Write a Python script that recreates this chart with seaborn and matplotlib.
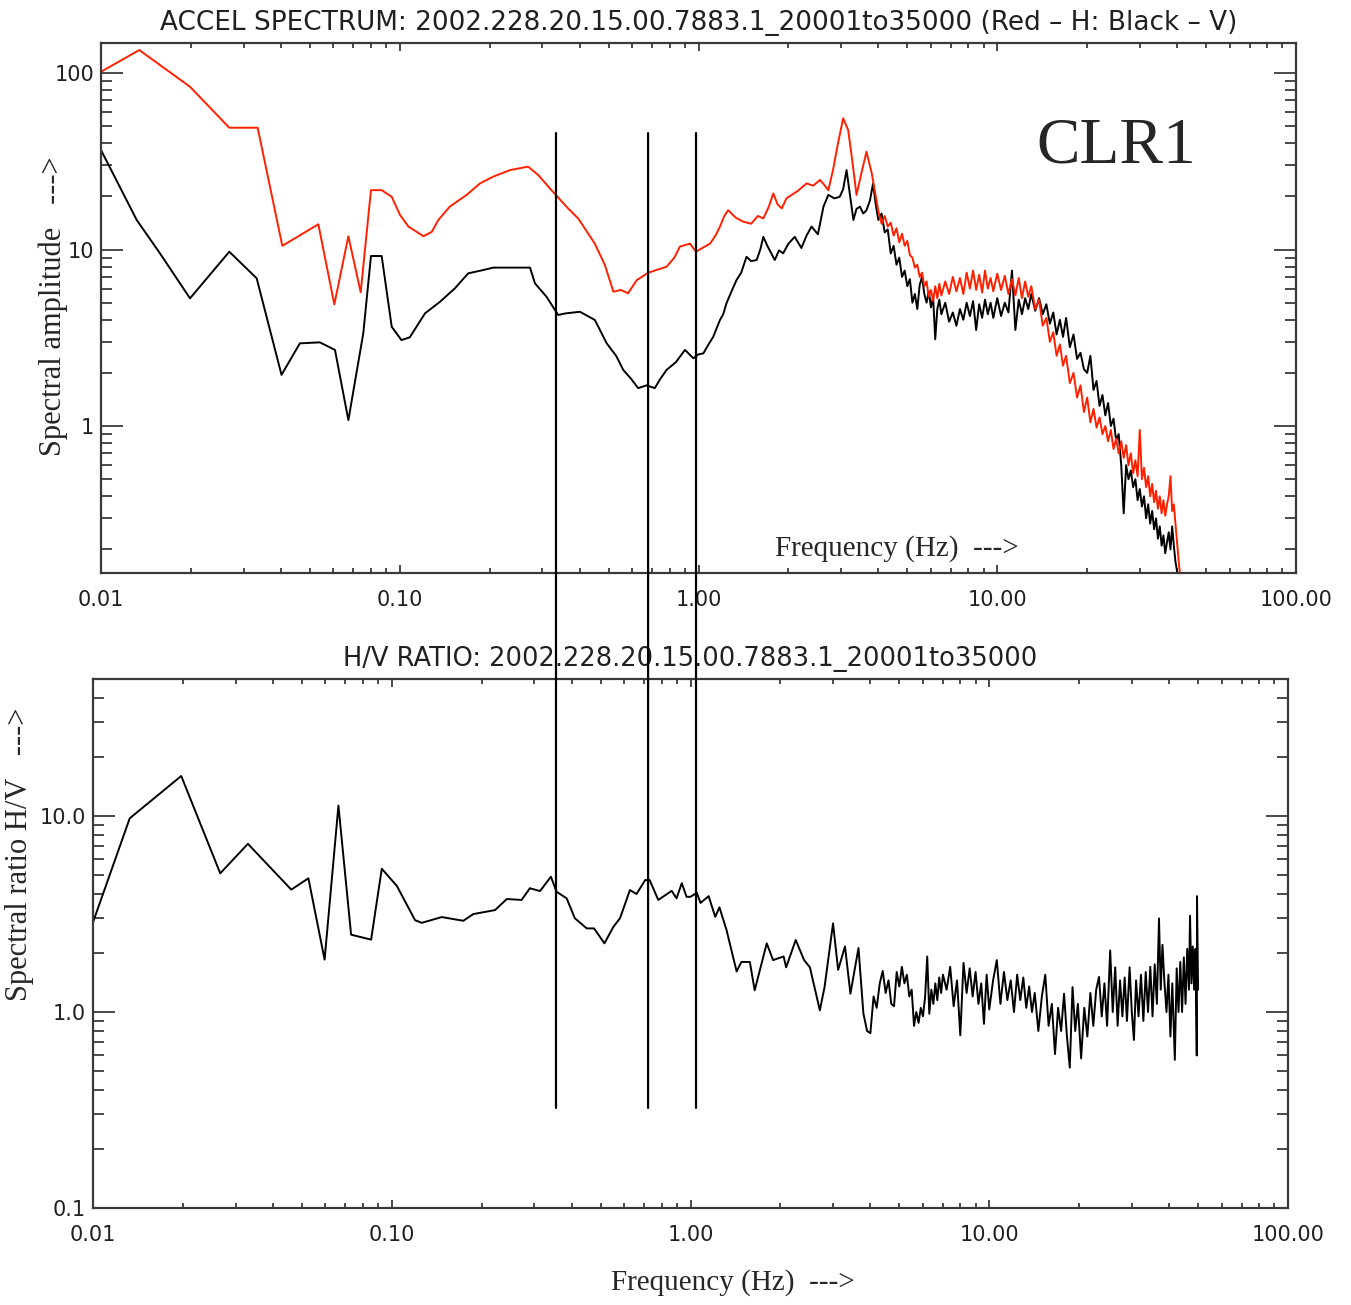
import numpy as np
import pandas as pd
import matplotlib
matplotlib.use("Agg")
import matplotlib.pyplot as plt
import seaborn as sns
from matplotlib.ticker import LogLocator, NullFormatter
from matplotlib.patches import ConnectionPatch
from matplotlib.transforms import blended_transform_factory

# ---------------- data ----------------
# Top panel: horizontal (red) spectrum, sparse low-frequency part
freq_h_low = [0.01, 0.01343, 0.01986, 0.02688, 0.03345, 0.04045, 0.0534, 0.0604, 0.0673, 0.074,
              0.0801, 0.087, 0.094, 0.1002, 0.1069, 0.12, 0.128, 0.1346, 0.147, 0.1675,
              0.1856, 0.2057, 0.234, 0.269, 0.291, 0.322, 0.366, 0.3957, 0.4498, 0.486,
              0.519, 0.55, 0.581, 0.621, 0.679, 0.73, 0.782, 0.83, 0.867, 0.936,
              0.981, 1.04, 1.093, 1.14, 1.18, 1.22, 1.257, 1.33, 1.41, 1.5,
              1.58, 1.648, 1.72, 1.78, 1.84, 1.9, 1.97, 2.05, 2.15, 2.3,
              2.42, 2.55, 2.65, 2.72, 2.82, 2.93, 3.05, 3.17, 3.27, 3.38,
              3.51, 3.65, 3.8, 3.92]
amp_h_low = [101.7, 135, 83.6, 49, 49, 10.5, 13.9, 4.89, 11.9, 5.72,
             21.7, 21.7, 19.9, 15.7, 13.5, 11.9, 12.6, 14.7, 17.5, 20.4,
             23.7, 25.9, 28.2, 29.5, 26.4, 21.7, 17.1, 15.0, 10.8, 8.17,
             5.77, 5.9, 5.65, 6.71, 7.39, 7.7, 7.99, 9.0, 10.4, 10.8,
             9.72, 10.3, 10.8, 12.0, 13.5, 15.5, 16.7, 15.2, 14.4, 14.0,
             15.5, 15.0, 17.5, 20.8, 18.0, 17.1, 19.5, 20.4, 21.5, 23.7,
             23.0, 24.8, 23.0, 21.7, 28.2, 40.0, 55.4, 47.5, 32.0, 20.4,
             27.1, 35.8, 27.1, 20.0]

# Top panel: vertical (black) spectrum, sparse low-frequency part
freq_v_low = [0.01, 0.01317, 0.01575, 0.01986, 0.02688, 0.0332, 0.0402, 0.0463, 0.054, 0.0607,
              0.0673, 0.0755, 0.0801, 0.087, 0.094, 0.1013, 0.108, 0.1215, 0.1364, 0.153,
              0.1695, 0.19, 0.2057, 0.234, 0.273, 0.2836, 0.31, 0.339, 0.36, 0.401,
              0.4498, 0.493, 0.53, 0.56, 0.595, 0.628, 0.67, 0.714, 0.745, 0.782,
              0.84, 0.901, 0.961, 1.0, 1.038, 1.08, 1.12, 1.18, 1.21, 1.24,
              1.29, 1.34, 1.39, 1.448, 1.5, 1.565, 1.61, 1.648, 1.7, 1.8,
              1.86, 1.92, 2.0, 2.1, 2.21, 2.3, 2.39, 2.51, 2.62, 2.72,
              2.85, 2.97, 3.05, 3.13, 3.22, 3.3, 3.38, 3.47, 3.56, 3.65,
              3.75, 3.84, 3.92]
amp_v_low = [36.6, 14.7, 9.52, 5.29, 9.72, 6.87, 1.95, 2.94, 2.98, 2.70,
             1.08, 3.35, 9.19, 9.19, 3.65, 3.07, 3.18, 4.35, 5.06, 6.03,
             7.33, 7.65, 7.9, 7.9, 7.9, 6.43, 5.40, 4.26, 4.35, 4.44,
             3.99, 2.94, 2.5, 2.08, 1.85, 1.64, 1.7, 1.64, 1.85, 2.08,
             2.3, 2.70, 2.42, 2.55, 2.58, 2.9, 3.2, 3.99, 4.3, 4.95,
             5.8, 6.71, 7.4, 9.10, 8.6, 8.72, 10.0, 11.8, 10.5, 8.72,
             9.9, 9.52, 10.8, 11.8, 10.2, 12.0, 13.5, 12.2, 17.5, 20.4,
             19.5, 19.9, 22.0, 28.2, 20.0, 14.7, 17.0, 17.5, 16.0, 16.7,
             19.0, 23.7, 18.0]

# Top panel: dense high-frequency part (shared frequencies)
freq_hi = [4.0, 4.1, 4.2, 4.3, 4.4, 4.5, 4.6, 4.7, 4.8, 4.9,
           5.0, 5.1, 5.2, 5.3, 5.4, 5.5, 5.6, 5.7, 5.8, 5.9,
           6.0, 6.1, 6.2, 6.3, 6.4, 6.5, 6.7, 6.9, 7.1, 7.3,
           7.5, 7.7, 7.9, 8.1, 8.3, 8.5, 8.7, 8.9, 9.1, 9.3,
           9.5, 9.7, 10.0, 10.3, 10.6, 10.9, 11.2, 11.5, 11.8, 12.1,
           12.4, 12.7, 13.0, 13.4, 13.8, 14.2, 14.6, 15.0, 15.4, 15.8,
           16.2, 16.6, 17.0, 17.5, 18.0, 18.5, 19.0, 19.5, 20.0, 20.5,
           21.0, 21.5, 22.0, 22.5, 23.0, 23.5, 24.0, 24.5, 25.0, 25.5,
           26.0, 26.5, 27.0, 27.5, 28.0, 28.5, 29.0, 29.5, 30.0, 30.5,
           31.0, 31.5, 32.0, 32.5, 33.0, 33.5, 34.0, 34.5, 35.0, 35.5,
           36.0, 36.5, 37.0, 37.5, 38.0, 38.5, 39.0, 39.5, 40.0, 40.5,
           41.0]
amp_h_hi = [16.5, 14.0, 15.5, 13.5, 14.2, 12.0, 13.2, 11.0, 12.3, 10.5,
            11.2, 9.3, 9.0, 7.9, 8.2, 7.0, 7.4, 6.2, 6.6, 5.4,
            5.9, 5.1, 6.2, 5.3, 6.4, 5.5, 6.6, 5.6, 7.0, 5.8,
            6.9, 5.6, 7.4, 6.0, 7.6, 5.9, 7.2, 5.7, 7.6, 6.0,
            6.9, 5.8, 7.3, 5.9, 7.1, 5.6, 6.8, 5.5, 6.9, 5.3,
            6.6, 5.4, 6.2, 4.6, 5.2, 3.7, 4.1, 3.0, 3.4, 2.5,
            2.9, 2.2, 2.5, 1.75, 2.0, 1.45, 1.7, 1.2, 1.45, 1.05,
            1.25, 0.98, 1.12, 0.90, 1.0, 0.82, 0.95, 0.74, 0.85, 0.70,
            0.82, 0.66, 0.78, 0.60, 0.70, 0.54, 0.64, 0.52, 0.95, 0.50,
            0.58, 0.45, 0.52, 0.40, 0.47, 0.37, 0.43, 0.34, 0.40, 0.32,
            0.38, 0.31, 0.36, 0.40, 0.52, 0.33, 0.36, 0.28, 0.22, 0.17,
            0.14]
amp_v_hi = [14.7, 16.0, 12.5, 13.0, 9.5, 10.5, 8.2, 9.0, 7.0, 7.6,
            6.2, 6.8, 5.0, 5.6, 4.6, 6.3, 7.0, 5.6, 5.0, 5.8,
            4.7, 5.4, 3.1, 4.6, 5.2, 4.3, 5.0, 3.9, 4.4, 3.7,
            4.6, 4.0, 5.0, 4.2, 5.1, 3.5, 4.9, 4.1, 5.2, 4.3,
            5.0, 4.1, 5.3, 4.2, 5.0, 4.4, 7.6, 3.5, 5.2, 4.3,
            5.3, 4.6, 5.6, 4.5, 5.3, 4.3, 4.9, 3.8, 4.4, 3.3,
            4.0, 3.2, 4.1, 2.8, 3.3, 2.4, 2.6, 2.1, 2.0, 2.5,
            1.6, 1.8, 1.3, 1.5, 1.15, 1.35, 1.0, 1.1, 0.83, 0.9,
            0.6, 0.32, 0.6, 0.5, 0.56, 0.45, 0.5, 0.38, 0.44, 0.35,
            0.4, 0.3, 0.36, 0.28, 0.33, 0.26, 0.3, 0.23, 0.27, 0.21,
            0.24, 0.19, 0.22, 0.25, 0.2, 0.27, 0.21, 0.17, 0.15, 0.13,
            0.12]

# Bottom panel: H/V ratio
freq_r_low = [0.01, 0.01327, 0.01974, 0.02666, 0.033, 0.0461, 0.0526, 0.0596, 0.0663, 0.0731,
              0.0853, 0.0926, 0.104, 0.1197, 0.126, 0.147, 0.1736, 0.1875, 0.2216, 0.2427,
              0.272, 0.29, 0.3135, 0.341, 0.356, 0.385, 0.41, 0.4494, 0.4757, 0.515,
              0.552, 0.581, 0.627, 0.66, 0.705, 0.73, 0.78, 0.865, 0.898, 0.935,
              0.97, 1.0, 1.05, 1.08, 1.15, 1.21, 1.25, 1.32, 1.427, 1.48,
              1.58, 1.64, 1.8, 1.89, 2.05, 2.09, 2.25, 2.4, 2.51, 2.71,
              2.81, 3.0, 3.12, 3.29, 3.43, 3.65, 3.79, 3.9]
ratio_low = [2.87, 9.73, 16.0, 5.10, 7.21, 4.21, 4.81, 1.85, 11.3, 2.48,
             2.34, 5.38, 4.40, 2.94, 2.85, 3.05, 2.92, 3.16, 3.31, 3.77,
             3.73, 4.28, 4.14, 4.90, 4.11, 3.80, 3.01, 2.67, 2.67, 2.24,
             2.72, 3.01, 4.19, 4.0, 4.71, 4.71, 3.73, 4.15, 3.80, 4.54,
             3.87, 3.87, 4.06, 3.6, 3.9, 3.06, 3.42, 2.62, 1.61, 1.80,
             1.80, 1.29, 2.24, 1.84, 1.92, 1.69, 2.33, 1.84, 1.69, 1.02,
             1.34, 2.83, 1.64, 2.16, 1.24, 2.12, 0.985, 0.80]
freq_r_hi = [4.0, 4.1, 4.2, 4.3, 4.4, 4.5, 4.6, 4.7, 4.8, 4.9,
             5.0, 5.1, 5.2, 5.3, 5.4, 5.5, 5.6, 5.7, 5.8, 5.9,
             6.0, 6.1, 6.2, 6.3, 6.4, 6.5, 6.6, 6.7, 6.8, 6.9,
             7.0, 7.2, 7.4, 7.6, 7.8, 8.0, 8.2, 8.4, 8.6, 8.8,
             9.0, 9.2, 9.4, 9.6, 9.8, 10.0, 10.3, 10.6, 10.9, 11.2,
             11.5, 11.8, 12.1, 12.4, 12.7, 13.0, 13.3, 13.6, 13.9, 14.2,
             14.6, 15.0, 15.4, 15.8, 16.2, 16.6, 17.0, 17.4, 17.8, 18.2,
             18.6, 19.0, 19.4, 19.8, 20.3, 20.8, 21.3, 21.8, 22.3, 22.8,
             23.3, 23.8, 24.3, 24.8, 25.4, 25.9, 26.4, 26.9, 27.4, 27.9,
             28.4, 28.9, 29.5, 30.0, 30.5, 31.0, 31.6, 32.2, 32.8, 33.4,
             34.0, 34.6, 35.2, 35.8, 36.4, 37.0, 37.5, 38.0, 38.6, 39.2,
             39.8, 40.4, 41.0, 41.8, 42.4, 43.0, 43.6, 44.2, 44.8, 45.4,
             46.0, 46.6, 47.0, 47.5, 48.0, 48.5, 49.0, 49.5, 49.6, 50.0]
ratio_hi = [0.78, 1.20, 1.05, 1.40, 1.62, 1.25, 1.45, 1.10, 1.07, 1.60,
            1.35, 1.70, 1.40, 1.55, 1.20, 1.30, 0.85, 1.00, 0.88, 1.05,
            0.95, 1.20, 1.92, 0.98, 1.30, 1.10, 1.40, 1.15, 1.50, 1.25,
            1.55, 1.30, 1.70, 1.07, 1.45, 0.76, 1.78, 1.25, 1.67, 1.20,
            1.60, 1.10, 1.40, 0.87, 1.55, 1.03, 1.45, 1.84, 1.10, 1.60,
            1.15, 1.45, 1.00, 1.55, 1.15, 1.50, 1.05, 1.35, 1.00, 1.25,
            0.80, 1.20, 1.55, 0.85, 1.10, 0.61, 1.05, 0.80, 1.24, 0.75,
            0.52, 1.34, 0.80, 1.10, 0.58, 1.05, 0.75, 1.25, 0.85, 1.30,
            1.51, 0.95, 1.40, 0.85, 2.06, 1.00, 1.69, 0.85, 1.45, 0.95,
            1.50, 0.90, 1.69, 1.00, 0.72, 1.45, 0.95, 1.55, 0.90, 1.60,
            1.00, 1.70, 0.95, 1.75, 1.10, 3.00, 1.30, 2.20, 1.40, 1.00,
            1.55, 0.75, 1.40, 0.57, 1.67, 1.00, 1.80, 1.00, 1.90, 1.10,
            2.10, 1.30, 3.10, 1.40, 2.16, 1.30, 2.10, 0.60, 3.90, 1.30]

# Marker frequencies (vertical lines) and their vertical extent
marker_freqs = [0.3334, 0.678, 0.981]
marker_top_amp = 45.7
marker_bottom_ratio = 0.324

top_xticks = [0.01, 0.1, 1, 10, 100]
top_xlabels = ["0.01", "0.10", "1.00", "10.00", "100.00"]
top_yticks = [1, 10, 100]
top_ylabels = ["1", "10", "100"]
bot_yticks = [0.1, 1, 10]
bot_ylabels = ["0.1", "1.0", "10.0"]

title_top = "ACCEL SPECTRUM: 2002.228.20.15.00.7883.1_20001to35000 (Red \u2013 H: Black \u2013 V)"
title_bot = "H/V RATIO: 2002.228.20.15.00.7883.1_20001to35000"

# ---------------- figure ----------------
sns.set_theme(style="white")
plt.rcParams["font.family"] = ["DejaVu Sans"]

W, H = 1351, 1305
fig = plt.figure(figsize=(W / 100, H / 100), dpi=100)
ax1 = fig.add_axes([101 / W, 1 - 573 / H, 1195 / W, 530 / H])
ax2 = fig.add_axes([93 / W, 1 - 1208 / H, 1195 / W, 529 / H])

df_h = pd.DataFrame({"f": freq_h_low + freq_hi, "a": amp_h_low + amp_h_hi})
df_v = pd.DataFrame({"f": freq_v_low + freq_hi, "a": amp_v_low + amp_v_hi})
df_r = pd.DataFrame({"f": freq_r_low + freq_r_hi, "r": ratio_low + ratio_hi})

sns.lineplot(data=df_v, x="f", y="a", ax=ax1, color="black", lw=1.4,
             estimator=None, sort=False)
sns.lineplot(data=df_h, x="f", y="a", ax=ax1, color="#ff2000", lw=1.4,
             estimator=None, sort=False)
sns.lineplot(data=df_r, x="f", y="r", ax=ax2, color="black", lw=1.4,
             estimator=None, sort=False)

spine_col = "#3a3a3a"
for ax in (ax1, ax2):
    ax.set_xscale("log")
    ax.set_yscale("log")
    ax.set_xlim(0.01, 100)
    for s in ax.spines.values():
        s.set_visible(True)
        s.set_color(spine_col)
        s.set_linewidth(1.6)
    ax.xaxis.set_minor_locator(LogLocator(base=10, subs=range(2, 10), numticks=20))
    ax.yaxis.set_minor_locator(LogLocator(base=10, subs=range(2, 10), numticks=20))
    ax.xaxis.set_minor_formatter(NullFormatter())
    ax.yaxis.set_minor_formatter(NullFormatter())
    ax.tick_params(axis="both", which="both", direction="in",
                   top=True, right=True, bottom=True, left=True,
                   color=spine_col, width=1.3, labelcolor="#202020")
    ax.tick_params(axis="x", which="major", length=6, labelsize=15, pad=12)
    ax.tick_params(axis="x", which="minor", length=3.5)
    ax.tick_params(axis="y", which="major", length=16, labelsize=15, pad=5)
    ax.tick_params(axis="y", which="minor", length=8)
    ax.set_xlabel("")
    ax.set_ylabel("")
    ax.grid(False)
    ax.set_xticks(top_xticks, top_xlabels)

ax1.set_ylim(0.147, 148)
ax1.set_yticks(top_yticks, top_ylabels)
ax2.set_ylim(0.1, 50)
ax2.set_yticks(bot_yticks, bot_ylabels)

ax1.set_title(title_top, fontsize=18.9, pad=9, color="#202020")
ax2.set_title(title_bot, fontsize=18.5, pad=9, color="#202020")

serif = "Liberation Serif"
ax1.text(0.564, 0.032, "Frequency (Hz)  --->", transform=ax1.transAxes,
         fontsize=21, family=serif, ha="left", va="baseline")
ax1.text(0.783, 0.774, "CLR1", transform=ax1.transAxes,
         fontsize=47, family=serif, ha="left", va="baseline")
fig.text(53 / W, 1 - 306 / H, "Spectral amplitude   --->", rotation=90,
         fontsize=22, family=serif, ha="center", va="center")
fig.text(20 / W, 1 - 854 / H, "Spectral ratio H/V   --->", rotation=90,
         fontsize=22, family=serif, ha="center", va="center")
fig.text(733 / W, 1 - 1283 / H, "Frequency (Hz)  --->",
         fontsize=21, family=serif, ha="center", va="center")

# vertical marker lines spanning both panels
trans_b = blended_transform_factory(ax1.transData, ax2.transData)
for fm in marker_freqs:
    con = ConnectionPatch(xyA=(fm, marker_top_amp), coordsA=ax1.transData,
                          xyB=(fm, marker_bottom_ratio), coordsB=trans_b,
                          color="black", lw=1.6)
    fig.add_artist(con)

fig.savefig("out.png", dpi=100, facecolor="white")
